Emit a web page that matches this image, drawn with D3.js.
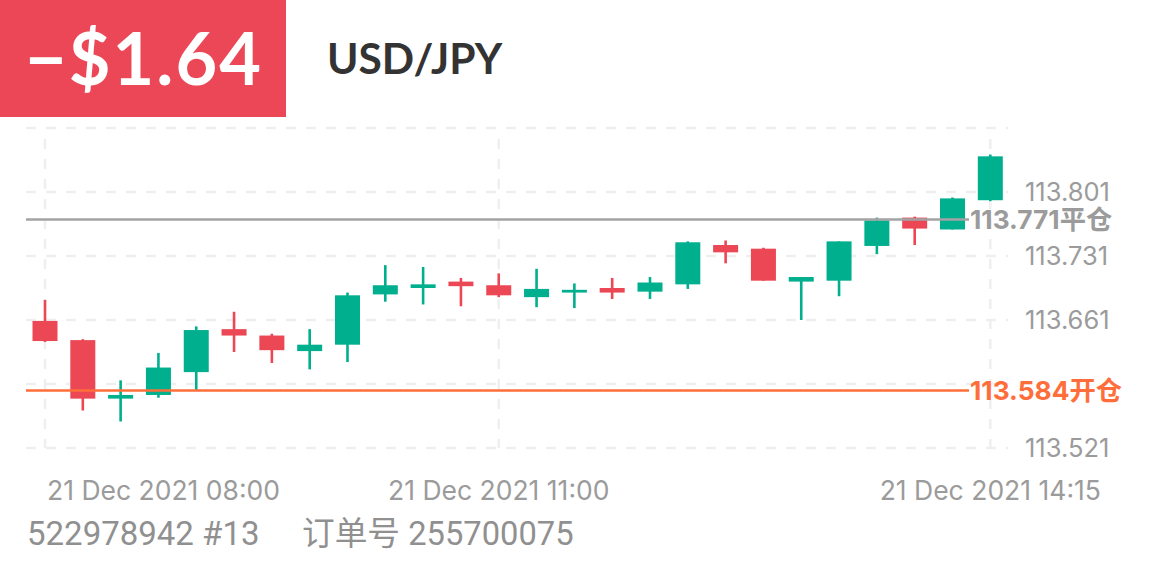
<!DOCTYPE html>
<html>
<head>
<meta charset="utf-8">
<script src="https://cdn.jsdelivr.net/npm/d3@7/dist/d3.min.js"></script>
<style>
  html, body { margin: 0; padding: 0; background: #fff; }
  svg { display: block; }
</style>
</head>
<body>
<svg id="chart" width="1161" height="580"></svg>
<script>
// ---------- data ----------
const times = ["08:00","08:15","08:30","08:45","09:00","09:15","09:30","09:45","10:00","10:15","10:30","10:45","11:00","11:15","11:30","11:45","12:00","12:15","12:30","12:45","13:00","13:15","13:30","13:45","14:00","14:15"];
const opens  = [113.660,113.639,113.575,113.579,113.604,113.651,113.644,113.627,113.634,113.689,113.696,113.703,113.699,113.686,113.691,113.696,113.692,113.700,113.743,113.739,113.703,113.704,113.742,113.773,113.760,113.792];
const highs  = [113.683,113.640,113.595,113.625,113.654,113.670,113.646,113.651,113.691,113.721,113.719,113.707,113.712,113.717,113.701,113.707,113.708,113.747,113.748,113.740,113.708,113.747,113.773,113.774,113.795,113.842];
const lows   = [113.637,113.562,113.550,113.576,113.584,113.626,113.614,113.607,113.615,113.681,113.678,113.676,113.686,113.675,113.674,113.684,113.684,113.695,113.723,113.704,113.661,113.687,113.733,113.743,113.760,113.791];
const closes = [113.638,113.575,113.579,113.609,113.650,113.644,113.628,113.634,113.688,113.699,113.700,113.698,113.688,113.695,113.694,113.691,113.702,113.746,113.735,113.704,113.708,113.747,113.770,113.761,113.794,113.840];

const yTickValues = [113.521, 113.591, 113.661, 113.731, 113.801, 113.871];
const yTickLabels = ["113.801", "113.731", "113.661", "113.521"];
const timeLabels = ["21 Dec 2021 08:00", "21 Dec 2021 11:00", "21 Dec 2021 14:15"];
const timeLabelTimes = ["08:00", "11:00", "14:15"];

const openPrice = 113.584;
const closePrice = 113.771;
const profitText = "\u2212$1.64";
const symbolText = "USD/JPY";
const accountText = "522978942 #13";
const orderText = "订单号 255700075";

// ---------- setup ----------
const W = 1161, H = 580;
const svg = d3.select("#chart");
const parse = d3.timeParse("%H:%M");
const candles = times.map((t, i) => ({
  t: parse(t), o: opens[i], h: highs[i], l: lows[i], c: closes[i]
}));

const RED = "#EB4755", GREEN = "#00AF8E", ORANGE = "#FF6E3A", GREYLINE = "#A3A3A3";
const LABEL = "#9B9B9B";

const x = d3.scaleTime().domain([parse("08:00"), parse("14:15")]).range([45, 990.3]);
const y = d3.scaleLinear().domain([113.521, 113.871]).range([448, 128]);

// ---------- header ----------
svg.append("rect").attr("x", 0).attr("y", 0).attr("width", 286).attr("height", 117).attr("fill", "#EC4756");
svg.append("text").attr("x", 144).attr("y", 85).attr("text-anchor", "middle")
  .attr("font-family", "Lato, sans-serif").attr("font-weight", 700).attr("font-size", 72)
  .attr("letter-spacing", 2)
  .attr("fill", "#fff").text(profitText);
svg.append("text").attr("x", 327).attr("y", 74)
  .attr("font-family", "Lato, sans-serif").attr("font-weight", 700).attr("font-size", 42.5)
  .attr("fill", "#333").text(symbolText);

// ---------- grid ----------
const grid = svg.append("g");
grid.selectAll("line.h").data(yTickValues).join("line")
  .attr("x1", 26).attr("x2", 1008)
  .attr("y1", d => y(d)).attr("y2", d => y(d))
  .attr("stroke", "#EFEFEF").attr("stroke-width", 2.5).attr("stroke-dasharray", "10,10");
grid.selectAll("line.v").data(timeLabelTimes).join("line")
  .attr("x1", d => x(parse(d))).attr("x2", d => x(parse(d)))
  .attr("y1", 139).attr("y2", 448)
  .attr("stroke", "#EFEFEF").attr("stroke-width", 2.5).attr("stroke-dasharray", "10,10");

// ---------- y labels ----------
svg.append("g").selectAll("text").data(yTickLabels).join("text")
  .attr("x", 1025).attr("y", d => y(+d)).attr("dy", "0.36em")
  .attr("font-family", "Inter, sans-serif").attr("font-size", 25.5)
  .attr("fill", LABEL).text(d => d);

// ---------- candles ----------
const bodyW = 25;
const cg = svg.append("g");
cg.selectAll("line").data(candles).join("line")
  .attr("x1", d => x(d.t)).attr("x2", d => x(d.t))
  .attr("y1", d => y(d.h)).attr("y2", d => y(d.l))
  .attr("stroke", d => d.c >= d.o ? GREEN : RED).attr("stroke-width", 2.6);
cg.selectAll("rect").data(candles).join("rect")
  .attr("x", d => x(d.t) - bodyW / 2).attr("width", bodyW)
  .attr("y", d => y(Math.max(d.o, d.c)))
  .attr("height", d => Math.max(2.5, Math.abs(y(d.o) - y(d.c))))
  .attr("fill", d => d.c >= d.o ? GREEN : RED);

// ---------- position lines ----------
const lines = [
  { v: closePrice, color: GREYLINE, txt: "113.771平仓", tcolor: "#9B9B9B" },
  { v: openPrice, color: ORANGE, txt: "113.584开仓", tcolor: ORANGE }
];
const lg = svg.append("g");
lg.selectAll("line").data(lines).join("line")
  .attr("x1", 26).attr("x2", 969)
  .attr("y1", d => y(d.v)).attr("y2", d => y(d.v))
  .attr("stroke", d => d.color).attr("stroke-width", 2.5);
lg.selectAll("text").data(lines).join("text")
  .attr("x", 970).attr("y", d => y(d.v)).attr("dy", "0.36em")
  .attr("font-family", "Inter, 'Noto Sans CJK SC', sans-serif").attr("font-weight", 700).attr("font-size", 26.3)
  .attr("fill", d => d.tcolor).text(d => d.txt);

// ---------- time labels ----------
svg.append("g").selectAll("text").data(timeLabels).join("text")
  .attr("x", (d, i) => i === 0 ? 47 : x(parse(timeLabelTimes[i])))
  .attr("y", 500)
  .attr("text-anchor", (d, i) => i === 0 ? "start" : "middle")
  .attr("font-family", "Inter, sans-serif").attr("font-size", 26.5)
  .attr("fill", LABEL).text(d => d);

// ---------- footer ----------
svg.append("text").attr("x", 27).attr("y", 545)
  .attr("font-family", "Roboto, 'Noto Sans CJK SC', sans-serif").attr("font-size", 33)
  .attr("fill", "#909090").text(accountText);
svg.append("text").attr("x", 302).attr("y", 545)
  .attr("font-family", "Roboto, 'Noto Sans CJK SC', sans-serif").attr("font-size", 32.7)
  .attr("fill", "#909090").text(orderText);
</script>
</body>
</html>
